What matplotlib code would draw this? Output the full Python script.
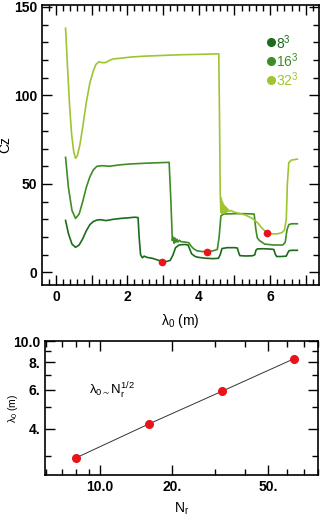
import numpy as np
import matplotlib
matplotlib.use("Agg")
import matplotlib.pyplot as plt
from matplotlib.ticker import MultipleLocator, FixedLocator, FixedFormatter, NullFormatter, FuncFormatter

plt.rcParams['font.family'] = ['Liberation Sans', 'DejaVu Sans']
plt.rcParams['mathtext.fontset'] = 'custom'
plt.rcParams['mathtext.rm'] = 'Liberation Sans'
plt.rcParams['mathtext.it'] = 'Liberation Sans'

# --- top panel: Cz vs lambda0 ---
lam8 = [0.27, 0.35, 0.45, 0.55, 0.65, 0.75, 0.85, 0.95, 1.05, 1.15, 1.25, 1.4, 1.6, 1.8, 2.0, 2.2,
        2.3, 2.33, 2.37, 2.42, 2.47, 2.55, 2.7, 2.85, 2.97, 3.1, 3.2, 3.28, 3.35, 3.45, 3.6, 3.7,
        3.75, 3.8, 3.9, 4.0, 4.2, 4.4, 4.55, 4.6, 4.65, 4.8, 5.0, 5.08, 5.12, 5.15, 5.3, 5.5,
        5.57, 5.6, 5.64, 5.8, 6.0, 6.1, 6.14, 6.18, 6.3, 6.45, 6.49, 6.53, 6.6, 6.76]
cz8 = [29.4, 22, 16, 14.2, 15.5, 19, 23.5, 27, 28.8, 29.6, 29.8, 29.3, 30, 30.5, 30.8, 31.2,
       31, 20, 10, 8.3, 9.2, 8.5, 8, 7, 6.3, 6.2, 6.8, 10, 14, 15.5, 15.8, 15.5,
       13, 10.5, 9, 8.5, 8, 7.8, 8, 10, 13.5, 14, 14, 13.8, 11, 9.5, 9.3, 9.4,
       10, 12.5, 13.3, 13.4, 13.2, 13, 10.5, 9, 9, 9.2, 11, 12.3, 12.5, 12.5]

lam16 = [0.27, 0.35, 0.45, 0.55, 0.65, 0.75, 0.85, 0.95, 1.05, 1.15, 1.3, 1.5, 1.8, 2.1, 2.5, 2.9,
         3.17, 3.22, 3.26, 3.28, 3.31, 3.33, 3.36, 3.39, 3.42, 3.46, 3.5, 3.6, 3.72, 3.78, 3.85,
         3.95, 4.1, 4.24, 4.4, 4.52, 4.57, 4.62, 4.7, 5.0, 5.3, 5.55, 5.6, 5.64, 5.7, 5.85, 6.1,
         6.35, 6.42, 6.47, 6.52, 6.6, 6.76]
cz16 = [65, 48, 35, 30.5, 33, 40, 48, 54, 58, 60, 60.3, 60, 60.8, 61.3, 61.7, 62,
        62.2, 40, 18, 20, 16.5, 19.5, 17, 18.8, 17.2, 18.2, 17.4, 17.2, 16.8, 15, 13.5,
        12.2, 11.8, 11.8, 12.2, 13, 20, 32, 33, 33.2, 33.2, 33, 24, 19.5, 18, 16, 15.5,
        15.5, 17, 24, 27, 27.5, 27.5]

lam32 = [0.27, 0.32, 0.38, 0.44, 0.5, 0.55, 0.6, 0.67, 0.75, 0.85, 0.95, 1.05, 1.12, 1.2, 1.3,
         1.4, 1.5, 1.6, 1.8, 2.1, 2.5, 3.0, 3.5, 4.0, 4.4, 4.56, 4.58, 4.6, 4.62, 4.63, 4.645,
         4.66, 4.675, 4.69, 4.705, 4.72, 4.74, 4.76, 4.78, 4.8, 4.85, 4.9, 5.0, 5.1, 5.3, 5.5,
         5.65, 5.75, 5.85, 5.93, 6.05, 6.2, 6.33, 6.4, 6.45, 6.48, 6.52, 6.6, 6.76]
cz32 = [138, 118, 95, 78, 68, 64.5, 66, 72, 82, 96, 107, 114, 117.5, 119, 118.5,
        118.6, 119.8, 120.6, 121, 121.7, 122.2, 122.6, 123, 123.2, 123.4, 123.5, 90, 45, 34, 42, 33,
        40, 33.5, 38.5, 33.5, 37.5, 34, 37, 34, 36, 34.5, 35, 34, 33.5, 32.5, 30.5,
        28, 25.5, 23.5, 22.3, 21.8, 21.8, 22.5, 24, 30, 50, 62, 63.5, 64]

# minima marked in red
lam_min = [2.97, 4.24, 5.90]
cz_min = [6.0, 11.8, 22.3]

# --- bottom panel: lambda0 vs Nr ---
nr = [8, 16, 32, 64]
lam_nr = [2.96, 4.21, 5.91, 8.32]

names = ["8$^3$", "16$^3$", "32$^3$"]
colors = ["#1d6a1d", "#3f8c26", "#9fc432"]

fig = plt.figure(figsize=(3.23, 5.16), dpi=100)

ax = fig.add_axes([0.130, 0.448, 0.858, 0.542])
for lx, cy, c in zip([lam8, lam16, lam32], [cz8, cz16, cz32], colors):
    ax.plot(lx, cy, color=c, lw=1.2)
ax.plot(lam_min, cz_min, 'o', color='#e8141a', ms=4.5, mec='#e8141a', zorder=5)

# legend as coloured dots + text
leg_y = [130, 119.5, 108.7]
for name, c, yy in zip(names, colors, leg_y):
    ax.plot(6.02, yy, 'o', color=c, ms=5.5)
    ax.text(6.15, yy, name, color=c, fontsize=10, va='center', ha='left')

ax.set_xlim(-0.39, 7.37)
ax.set_ylim(-7, 151)
ax.xaxis.set_major_locator(MultipleLocator(1))
ax.xaxis.set_minor_locator(MultipleLocator(0.2))
ax.xaxis.set_major_formatter(FuncFormatter(lambda v, p: "%d" % v if int(round(v)) % 2 == 0 else ""))
ax.yaxis.set_major_locator(MultipleLocator(50))
ax.yaxis.set_minor_locator(MultipleLocator(10))
ax.set_xlabel(r"$\mathregular{λ_0}$ (m)", fontsize=10, labelpad=6)
ax.set_ylabel("Cz", fontsize=10, labelpad=1)

ax2 = fig.add_axes([0.139, 0.0795, 0.846, 0.2595])
ax2.plot(nr, lam_nr, '-', color='#333333', lw=0.7)
ax2.plot(nr, lam_nr, 'o', color='#e8141a', ms=5.5, zorder=5)
ax2.set_xscale('log')
ax2.set_yscale('log')
ax2.set_xlim(5.92, 80.5)
ax2.set_ylim(2.47, 10.0)
ax2.xaxis.set_major_locator(FixedLocator([10, 20, 50]))
ax2.xaxis.set_major_formatter(FixedFormatter(["10.0", "20.", "50."]))
ax2.xaxis.set_minor_locator(FixedLocator([6, 7, 8, 9, 30, 40, 60, 70, 80]))
ax2.xaxis.set_minor_formatter(NullFormatter())
ax2.yaxis.set_major_locator(FixedLocator([4, 6, 8, 10]))
ax2.yaxis.set_major_formatter(FixedFormatter(["4.", "6.", "8.", "10.0"]))
ax2.yaxis.set_minor_locator(FixedLocator([3, 5, 7, 9]))
ax2.yaxis.set_minor_formatter(NullFormatter())
ax2.set_xlabel(r"$\mathregular{N_r}$", fontsize=10, labelpad=5)
ax2.set_ylabel(r"$\mathregular{λ_0}$ (m)", fontsize=7.5)
ax2.yaxis.set_label_coords(-0.09, 0.5)
ax2.text(9.0, 5.95, r"$\mathregular{λ_{0{\sim}}N_r^{1/2}}$", fontsize=9.5, va='center')

for a in (ax, ax2):
    a.tick_params(which='both', direction='in', top=True, right=True, labelsize=10, width=1)
    a.tick_params(which='major', length=7)
    a.tick_params(which='minor', length=4)
    for lab in a.get_xticklabels() + a.get_yticklabels():
        lab.set_fontweight('bold')
    for s in a.spines.values():
        s.set_linewidth(1.2)

fig.savefig("out.png", dpi=100)
